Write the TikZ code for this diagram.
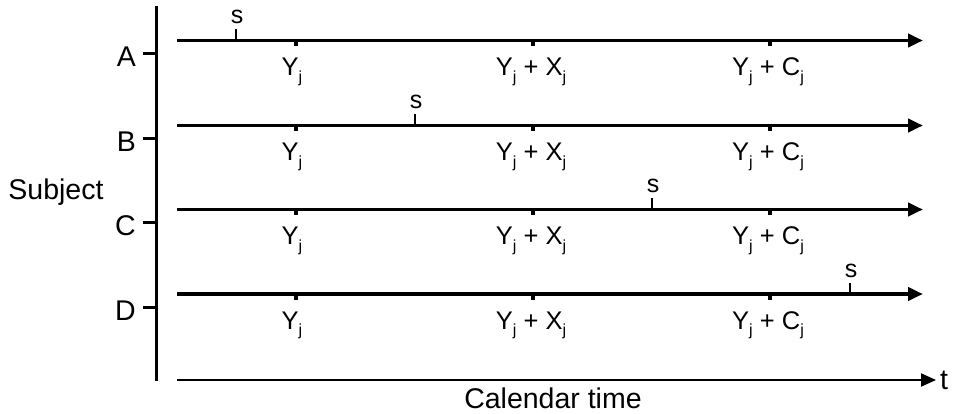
\documentclass[tikz,border=0pt]{standalone}
\usepackage{fontspec}
\setmainfont{Liberation Sans}
\usetikzlibrary{arrows.meta}
\newcommand{\sbj}{\raisebox{-0.5ex}{\fontsize{16}{16}\selectfont j}}
\begin{document}
\begin{tikzpicture}[x=1pt,y=-1pt,
  lab/.style={font=\fontsize{28.5}{30}\selectfont, inner sep=0pt},
  ylab/.style={font=\fontsize{25.5}{28}\selectfont, inner sep=0pt, anchor=base},
  slab/.style={font=\fontsize{25}{28}\selectfont, inner sep=0pt, anchor=base},
  tline/.style={line width=3.8pt, -{Triangle[length=15pt,width=13pt]}},
  ytick/.style={line width=3.2pt},
  stick/.style={line width=1.4pt},
  ltick/.style={line width=3pt}]
\useasboundingbox (0,0) rectangle (955,414);
% vertical axis
\coordinate (vtop) at (156,6);
\coordinate (vbot) at (156,381);
\draw[line width=3pt] (vtop) -- (vbot);
% bottom time axis
\coordinate (ts) at (177,380);
\coordinate (te) at (936,380);
\draw[line width=2pt, -{Triangle[length=15pt,width=13pt]}] (ts) -- (te);
\node[lab, anchor=base west] (t) at (940,389) {t};
\node[lab, anchor=base] (cal) at (553,408) {Calendar time};
\node[lab, anchor=base] (subj) at (56,200) {Subject};
% rows
\foreach \n/\y/\sx in {A/40.5/236, B/125.5/415, C/209.5/652, D/294/850}{
  \coordinate (\n-l) at (156,\y+13);
  \coordinate (\n-r) at (143,\y+13);
  \draw[ltick] (\n-l) -- (\n-r);
  \node[lab, anchor=base east] (\n-lab) at (136,\y+26) {\n};
  \coordinate (\n-s) at (177,\y);
  \coordinate (\n-e) at (923,\y);
  \draw[tline] (\n-s) -- (\n-e);
  % Y ticks
  \foreach \k/\xx in {1/296,2/533,3/770}{
    \coordinate (\n-y\k a) at (\xx,\y);
    \coordinate (\n-y\k b) at (\xx,\y+5.5);
    \draw[ytick] (\n-y\k a) -- (\n-y\k b);
  }
  \node[ylab] (\n-Y1) at (292,\y+35) {Y\sbj};
  \node[ylab] (\n-Y2) at (531,\y+35) {Y\sbj\ + X\sbj};
  \node[ylab] (\n-Y3) at (768,\y+35) {Y\sbj\ + C\sbj};
  % s tick
  \coordinate (\n-sa) at (\sx,\y);
  \coordinate (\n-sb) at (\sx,\y-11);
  \draw[stick] (\n-sa) -- (\n-sb);
  \node[slab] (\n-slab) at (\sx+1,\y-17) {s};
}
\end{tikzpicture}
\end{document}
